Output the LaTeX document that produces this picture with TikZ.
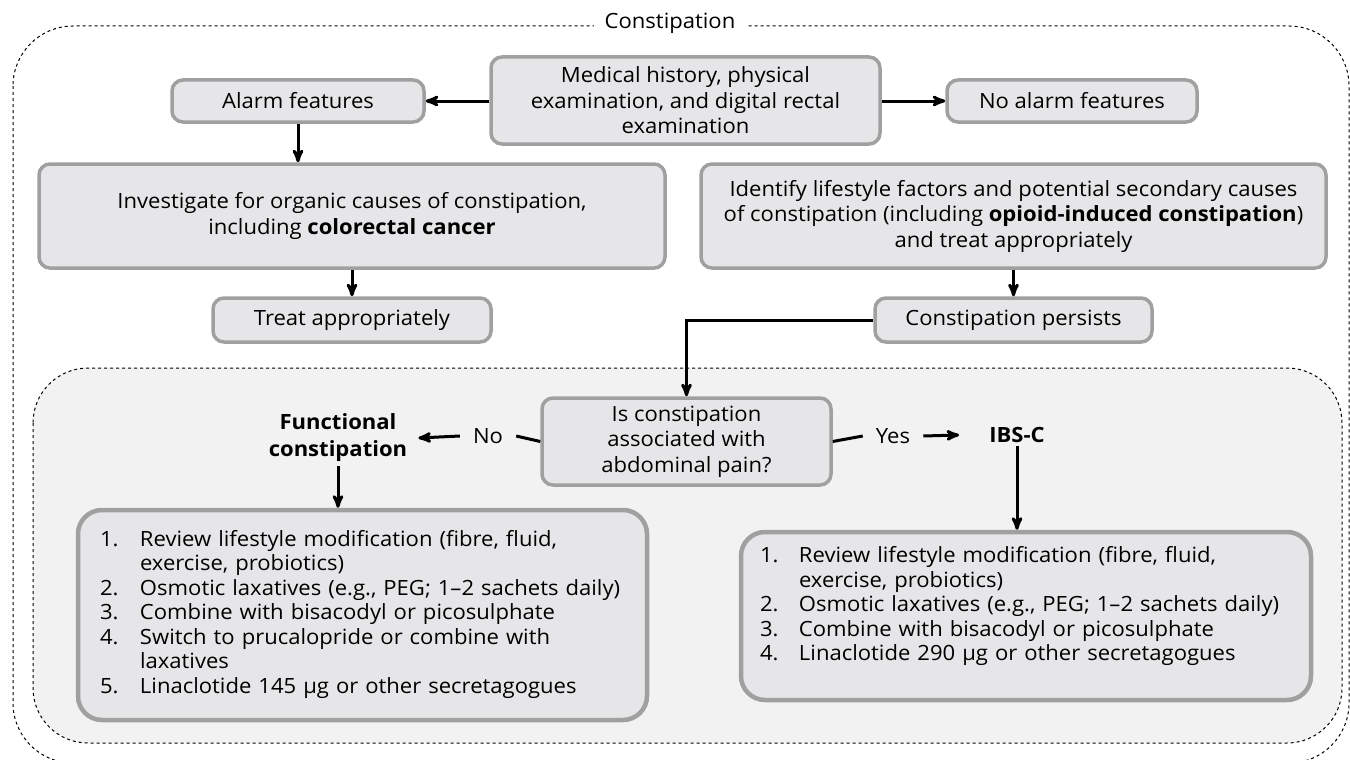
\documentclass[tikz,border=0pt]{standalone}
\usepackage{fontspec}
\setmainfont{Open Sans}[FakeStretch=1.05]
\usetikzlibrary{arrows,positioning}
\definecolor{boxfill}{HTML}{E6E6E8}
\definecolor{boxline}{HTML}{A0A0A0}
\definecolor{panelfill}{HTML}{F2F2F2}

\begin{document}
\begin{tikzpicture}[x=1pt, y=-1pt, >=stealth',
  every node/.style={font=\fontsize{21}{25.5}\selectfont},
  stepbox/.style={draw=boxline, line width=3.5pt, fill=boxfill, rounded corners=11pt, align=center, inner sep=0pt},
  listbox/.style={draw=boxline, line width=4.5pt, fill=boxfill, rounded corners=24pt, align=left, inner ysep=0pt, font=\fontsize{21}{24.5}\selectfont},
  flow/.style={line width=3pt, ->},
  link/.style={line width=3pt},
  frame/.style={dashed, line width=1pt, rounded corners=60pt}]
\useasboundingbox (0,0) rectangle (1350,760);

% outer frame and the lower panel
\draw[frame, fill=white] (13,26) rectangle (1349,763);
\node[fill=white, inner xsep=11pt, inner ysep=2pt] (title) at (670,23) {Constipation};
\draw[frame, fill=panelfill, rounded corners=55pt] (33,368) rectangle (1342,743);

% upper part
\node[stepbox, minimum width=389pt, minimum height=87pt] (hist) at (685.5,100.5)
  {Medical history, physical\\examination, and digital rectal\\examination};
\node[stepbox, minimum width=252pt, minimum height=42pt] (alarm) at (298,101) {Alarm features};
\node[stepbox, minimum width=250pt, minimum height=42pt] (noalarm) at (1072,101) {No alarm features};
\node[stepbox, minimum width=626pt, minimum height=104pt] (invest) at (352,216)
  {Investigate for organic causes of constipation,\\including \textbf{colorectal cancer}};
\node[stepbox, minimum width=625pt, minimum height=104pt] (ident) at (1013.5,216)
  {Identify lifestyle factors and potential secondary causes\\of constipation (including \textbf{opioid-induced constipation})\\and treat appropriately};
\node[stepbox, minimum width=278pt, minimum height=44pt] (treat) at (352,320) {Treat appropriately};
\node[stepbox, minimum width=277pt, minimum height=44pt] (persist) at (1013.5,320) {Constipation persists};

\draw[flow] (hist.west |- alarm.east) -- (alarm.east);
\draw[flow] (hist.east |- noalarm.west) -- (noalarm.west);
\draw[flow] (alarm.south) -- (alarm.south |- invest.north);
\draw[flow] (treat.north |- invest.south) -- (treat.north);
\draw[flow] (ident.south) -- (ident.south |- persist.north);

% lower panel
\node[stepbox, minimum width=289pt, minimum height=87pt] (question) at (686.5,441.5)
  {Is constipation\\associated with\\abdominal pain?};
\node[inner xsep=13pt] (no) at (488,436) {No};
\node[inner xsep=13pt] (yes) at (893,436) {Yes};
\node[align=center, inner xsep=11pt, font=\fontsize{21}{27}\selectfont\bfseries] (func) at (338,438) {Functional\\constipation};
\node[inner xsep=30pt, font=\fontsize{21}{25}\selectfont\bfseries] (ibsc) at (1017,435) {IBS-C};

\node[listbox, minimum width=569pt, minimum height=210pt, text width=525pt, inner xsep=22pt] (leftlist) at (362.5,615)
  {\begin{tabular}{@{}p{40pt}@{}l@{}}
   1. & Review lifestyle modification (fibre, fluid,\\
      & exercise, probiotics)\\
   2. & Osmotic laxatives (e.g., PEG; 1--2 sachets daily)\\
   3. & Combine with bisacodyl or picosulphate\\
   4. & Switch to prucalopride or combine with\\
      & laxatives\\
   5. & Linaclotide 145 µg or other secretagogues
   \end{tabular}};
\node[listbox, minimum width=570pt, minimum height=168pt, text width=532pt, inner xsep=19pt] (rightlist) at (1026,616)
  {\begin{tabular}{@{}p{39pt}@{}l@{}}
   1. & Review lifestyle modification (fibre, fluid,\\
      & exercise, probiotics)\\
   2. & Osmotic laxatives (e.g., PEG; 1--2 sachets daily)\\
   3. & Combine with bisacodyl or picosulphate\\
   4. & Linaclotide 290 µg or other secretagogues\\[18pt]
   \end{tabular}};

\draw[flow] (persist.west) -| (question.north);
\draw[link] (question.west) -- (no.east);
\draw[flow] (no.west) -- (func.east);
\draw[link] (question.east) -- (yes.west);
\draw[flow] (yes.east) -- (ibsc.west);
\draw[flow] (func.south) -- (func.south |- leftlist.north);
\draw[flow] (ibsc.south) -- (ibsc.south |- rightlist.north);
\end{tikzpicture}
\end{document}
